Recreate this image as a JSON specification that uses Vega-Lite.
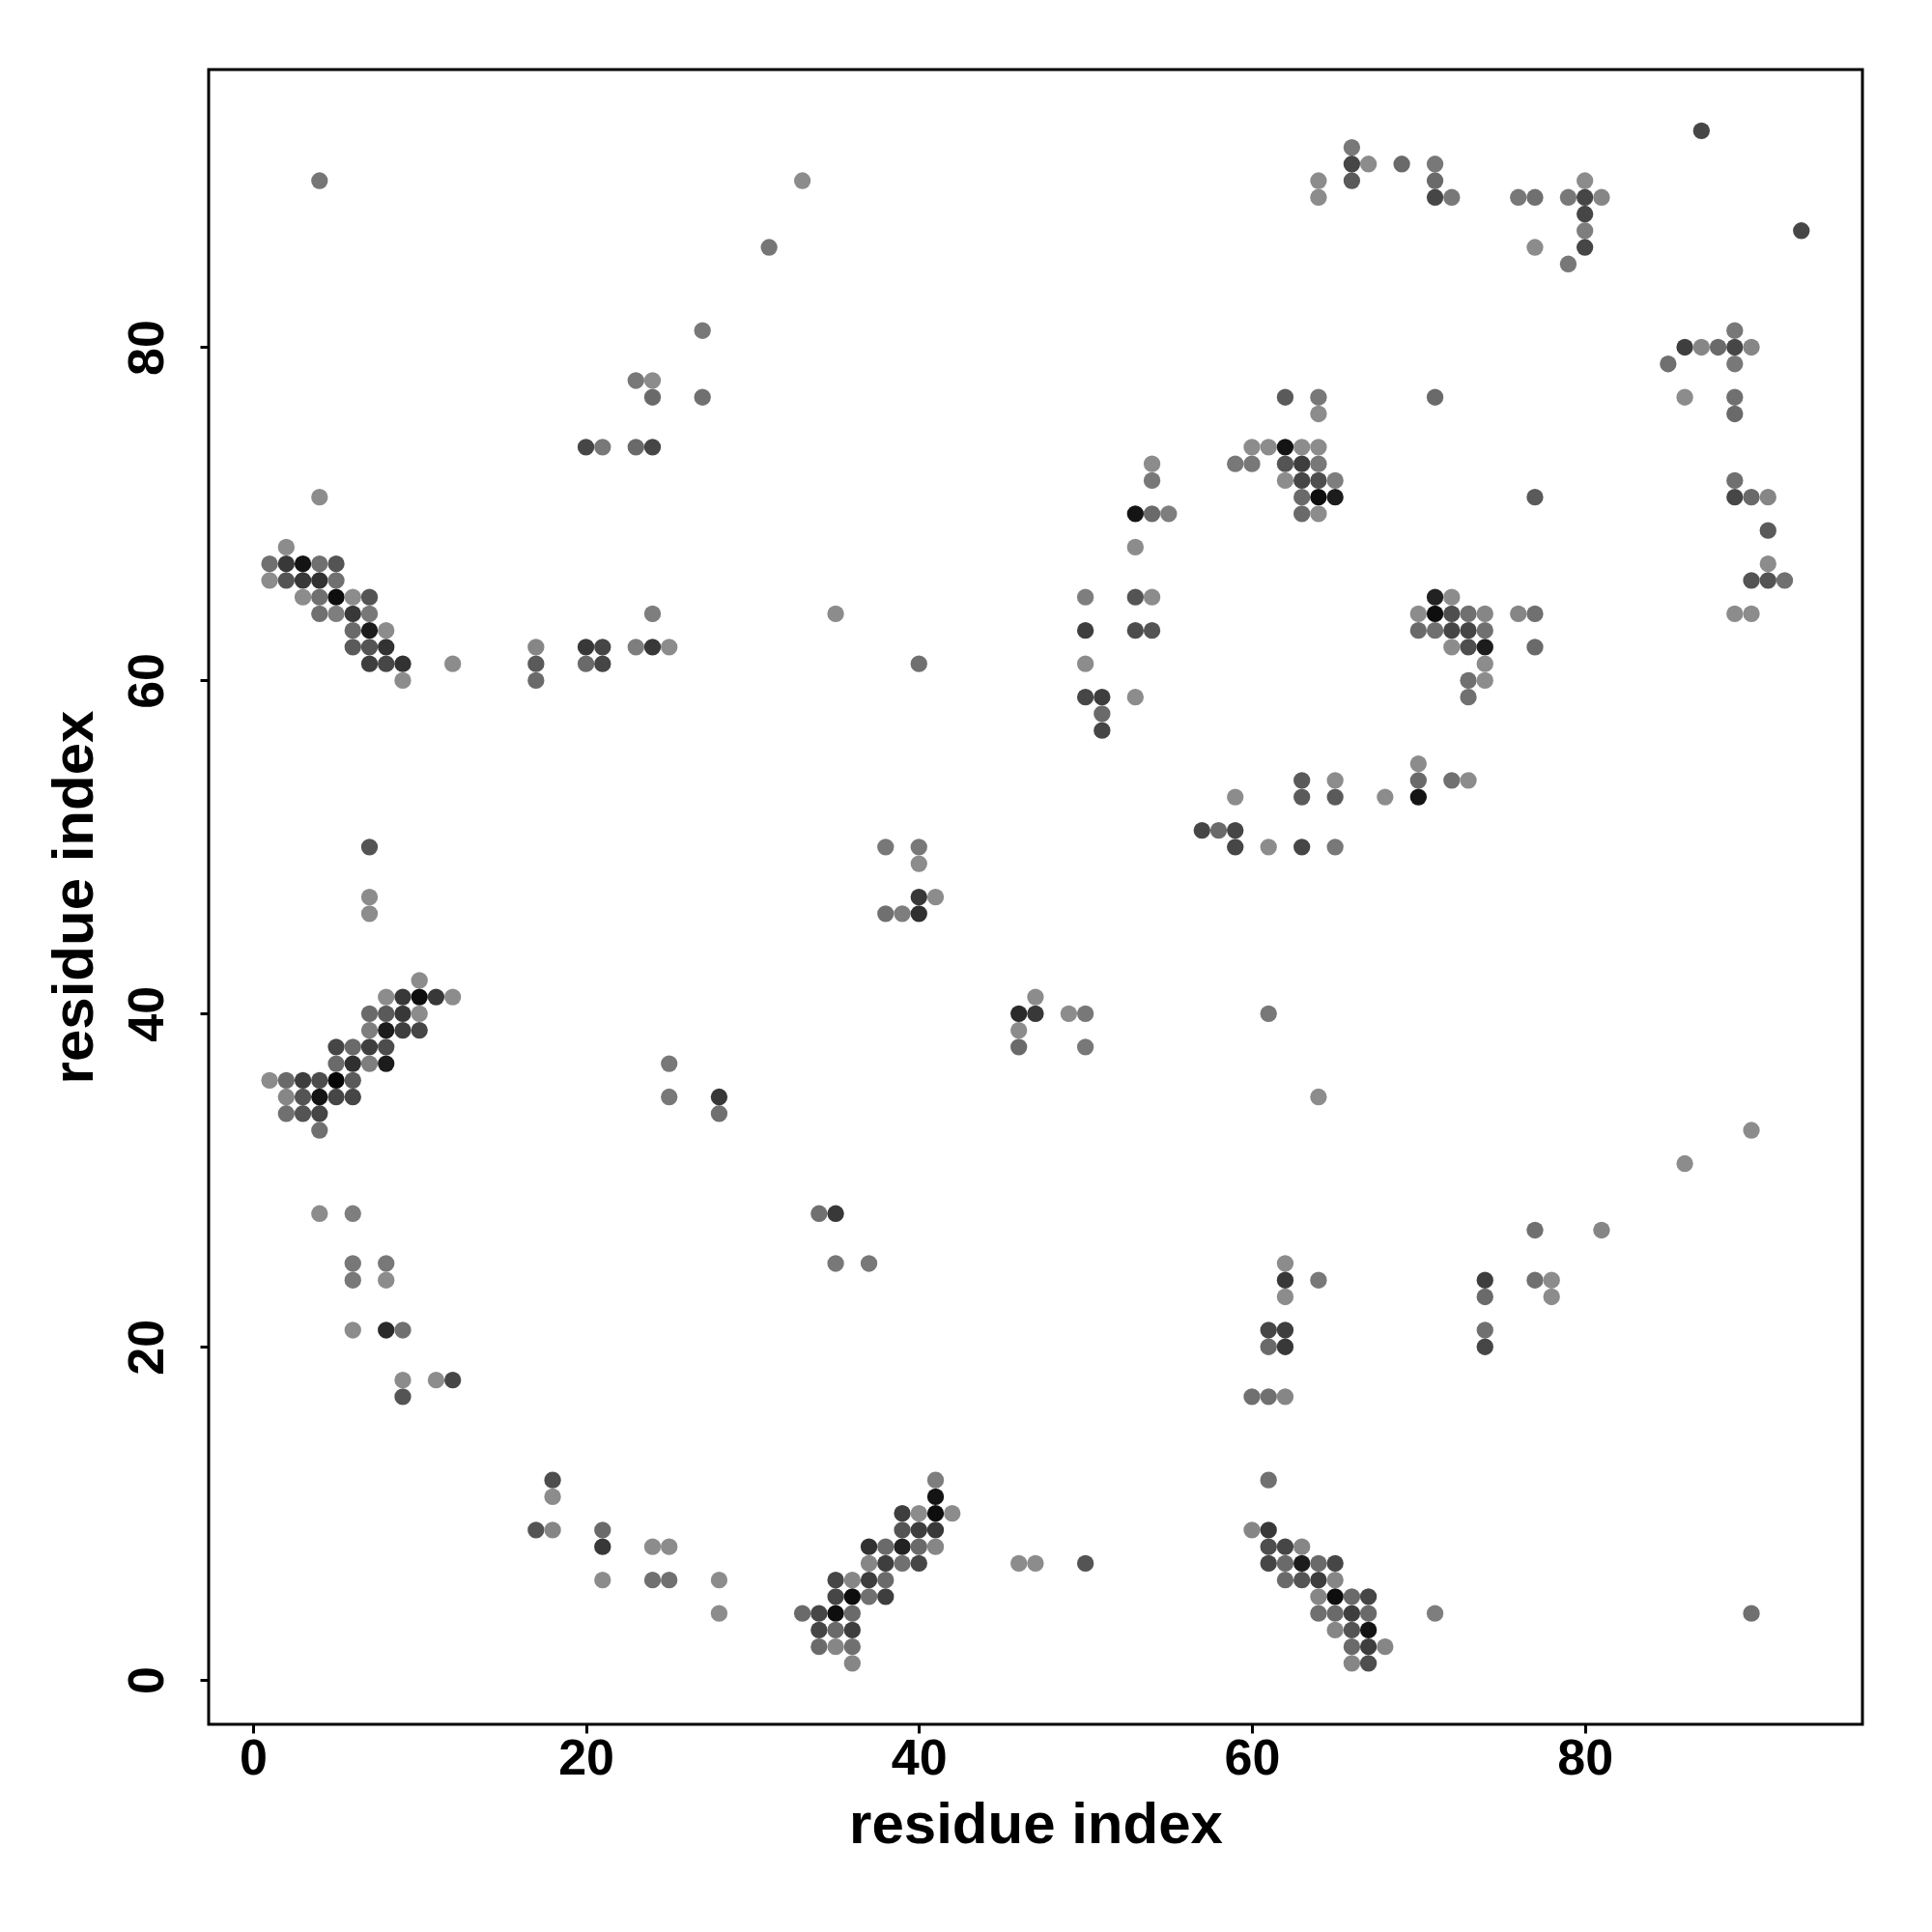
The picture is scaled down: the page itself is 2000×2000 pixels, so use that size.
{
  "$schema": "https://vega.github.io/schema/vega-lite/v6.json",
  "autosize": {"type": "none"},
  "width": 1712,
  "height": 1713,
  "padding": {"left": 216, "top": 72, "right": 72, "bottom": 215},
  "background": "white",
  "config": {
    "view": {"stroke": "black", "strokeWidth": 3},
    "font": "Liberation Sans"
  },
  "data": {
    "values": [
      {"i":2,"j":68,"p":0.5},
      {"i":1,"j":67,"p":0.6},{"i":2,"j":67,"p":0.8},{"i":3,"j":67,"p":0.93},{"i":4,"j":67,"p":0.6},{"i":5,"j":67,"p":0.7},
      {"i":1,"j":66,"p":0.5},{"i":2,"j":66,"p":0.7},{"i":3,"j":66,"p":0.8},{"i":4,"j":66,"p":0.82},{"i":5,"j":66,"p":0.6},
      {"i":3,"j":65,"p":0.5},{"i":4,"j":65,"p":0.6},{"i":5,"j":65,"p":0.95},{"i":6,"j":65,"p":0.5},{"i":7,"j":65,"p":0.7},
      {"i":4,"j":64,"p":0.6},{"i":5,"j":64,"p":0.55},{"i":6,"j":64,"p":0.8},{"i":7,"j":64,"p":0.57},
      {"i":6,"j":63,"p":0.62},{"i":7,"j":63,"p":0.9},{"i":8,"j":63,"p":0.5},
      {"i":6,"j":62,"p":0.68},{"i":7,"j":62,"p":0.7},{"i":8,"j":62,"p":0.82},
      {"i":7,"j":61,"p":0.78},{"i":8,"j":61,"p":0.75},{"i":9,"j":61,"p":0.82},{"i":12,"j":61,"p":0.5},
      {"i":9,"j":60,"p":0.5},
      {"i":4,"j":71,"p":0.5},
      {"i":4,"j":90,"p":0.58},
      {"i":17,"j":62,"p":0.52},{"i":17,"j":61,"p":0.68},{"i":17,"j":60,"p":0.62},
      {"i":20,"j":62,"p":0.8},{"i":21,"j":62,"p":0.75},{"i":23,"j":62,"p":0.55},{"i":24,"j":62,"p":0.8},{"i":25,"j":62,"p":0.5},
      {"i":20,"j":61,"p":0.62},{"i":21,"j":61,"p":0.75},
      {"i":24,"j":64,"p":0.55},{"i":35,"j":64,"p":0.5},{"i":40,"j":61,"p":0.6},
      {"i":20,"j":74,"p":0.75},{"i":21,"j":74,"p":0.57},{"i":23,"j":74,"p":0.62},{"i":24,"j":74,"p":0.75},
      {"i":24,"j":77,"p":0.62},{"i":27,"j":77,"p":0.6},
      {"i":23,"j":78,"p":0.57},{"i":24,"j":78,"p":0.5},
      {"i":27,"j":81,"p":0.57},
      {"i":31,"j":86,"p":0.58},
      {"i":33,"j":90,"p":0.5},
      {"i":7,"j":50,"p":0.7},{"i":7,"j":47,"p":0.5},{"i":7,"j":46,"p":0.5},
      {"i":10,"j":42,"p":0.5},
      {"i":8,"j":41,"p":0.5},{"i":9,"j":41,"p":0.8},{"i":10,"j":41,"p":0.95},{"i":11,"j":41,"p":0.8},{"i":12,"j":41,"p":0.5},
      {"i":7,"j":40,"p":0.62},{"i":8,"j":40,"p":0.68},{"i":9,"j":40,"p":0.8},{"i":10,"j":40,"p":0.5},
      {"i":7,"j":39,"p":0.55},{"i":8,"j":39,"p":0.9},{"i":9,"j":39,"p":0.78},{"i":10,"j":39,"p":0.75},
      {"i":5,"j":38,"p":0.75},{"i":6,"j":38,"p":0.62},{"i":7,"j":38,"p":0.78},{"i":8,"j":38,"p":0.73},
      {"i":5,"j":37,"p":0.62},{"i":6,"j":37,"p":0.83},{"i":7,"j":37,"p":0.55},{"i":8,"j":37,"p":0.9},
      {"i":1,"j":36,"p":0.5},{"i":2,"j":36,"p":0.62},{"i":3,"j":36,"p":0.78},{"i":4,"j":36,"p":0.73},{"i":5,"j":36,"p":0.97},{"i":6,"j":36,"p":0.68},
      {"i":2,"j":35,"p":0.52},{"i":3,"j":35,"p":0.7},{"i":4,"j":35,"p":0.93},{"i":5,"j":35,"p":0.75},{"i":6,"j":35,"p":0.75},
      {"i":2,"j":34,"p":0.6},{"i":3,"j":34,"p":0.7},{"i":4,"j":34,"p":0.75},
      {"i":4,"j":33,"p":0.6},
      {"i":4,"j":28,"p":0.5},{"i":6,"j":28,"p":0.55},
      {"i":6,"j":25,"p":0.57},{"i":8,"j":25,"p":0.57},
      {"i":6,"j":24,"p":0.57},{"i":8,"j":24,"p":0.5},
      {"i":6,"j":21,"p":0.5},{"i":8,"j":21,"p":0.85},{"i":9,"j":21,"p":0.6},
      {"i":9,"j":18,"p":0.5},{"i":9,"j":17,"p":0.7},{"i":11,"j":18,"p":0.5},{"i":12,"j":18,"p":0.75},
      {"i":25,"j":37,"p":0.57},{"i":25,"j":35,"p":0.57},{"i":28,"j":35,"p":0.8},{"i":28,"j":34,"p":0.6},
      {"i":34,"j":28,"p":0.6},{"i":35,"j":28,"p":0.8},{"i":35,"j":25,"p":0.57},{"i":37,"j":25,"p":0.57},
      {"i":38,"j":50,"p":0.57},{"i":40,"j":50,"p":0.57},{"i":40,"j":49,"p":0.5},{"i":40,"j":47,"p":0.8},{"i":41,"j":47,"p":0.5},
      {"i":38,"j":46,"p":0.6},{"i":39,"j":46,"p":0.55},{"i":40,"j":46,"p":0.83},
      {"i":46,"j":40,"p":0.85},{"i":47,"j":40,"p":0.8},{"i":47,"j":41,"p":0.5},{"i":49,"j":40,"p":0.5},{"i":50,"j":40,"p":0.57},
      {"i":46,"j":39,"p":0.5},{"i":46,"j":38,"p":0.62},{"i":50,"j":38,"p":0.57},
      {"i":17,"j":9,"p":0.7},{"i":18,"j":9,"p":0.52},{"i":18,"j":12,"p":0.72},{"i":18,"j":11,"p":0.5},
      {"i":21,"j":9,"p":0.62},{"i":21,"j":8,"p":0.8},{"i":21,"j":6,"p":0.5},
      {"i":24,"j":8,"p":0.5},{"i":25,"j":8,"p":0.5},{"i":24,"j":6,"p":0.6},{"i":25,"j":6,"p":0.6},
      {"i":28,"j":6,"p":0.5},{"i":28,"j":4,"p":0.5},
      {"i":46,"j":7,"p":0.5},{"i":47,"j":7,"p":0.5},{"i":50,"j":7,"p":0.7},
      {"i":41,"j":12,"p":0.55},
      {"i":41,"j":11,"p":0.93},
      {"i":39,"j":10,"p":0.78},{"i":40,"j":10,"p":0.5},{"i":41,"j":10,"p":0.95},{"i":42,"j":10,"p":0.5},
      {"i":39,"j":9,"p":0.7},{"i":40,"j":9,"p":0.78},{"i":41,"j":9,"p":0.8},
      {"i":37,"j":8,"p":0.82},{"i":38,"j":8,"p":0.62},{"i":39,"j":8,"p":0.88},{"i":40,"j":8,"p":0.62},{"i":41,"j":8,"p":0.52},
      {"i":37,"j":7,"p":0.52},{"i":38,"j":7,"p":0.78},{"i":39,"j":7,"p":0.6},{"i":40,"j":7,"p":0.75},
      {"i":35,"j":6,"p":0.75},{"i":36,"j":6,"p":0.52},{"i":37,"j":6,"p":0.78},{"i":38,"j":6,"p":0.62},
      {"i":35,"j":5,"p":0.75},{"i":36,"j":5,"p":0.95},{"i":37,"j":5,"p":0.6},{"i":38,"j":5,"p":0.78},
      {"i":33,"j":4,"p":0.62},{"i":34,"j":4,"p":0.75},{"i":35,"j":4,"p":0.95},{"i":36,"j":4,"p":0.62},
      {"i":34,"j":3,"p":0.75},{"i":35,"j":3,"p":0.62},{"i":36,"j":3,"p":0.78},
      {"i":34,"j":2,"p":0.62},{"i":35,"j":2,"p":0.52},{"i":36,"j":2,"p":0.6},
      {"i":36,"j":1,"p":0.52},
      {"i":50,"j":65,"p":0.55},{"i":50,"j":63,"p":0.78},{"i":50,"j":61,"p":0.5},{"i":50,"j":59,"p":0.75},{"i":51,"j":59,"p":0.78},{"i":53,"j":59,"p":0.5},
      {"i":51,"j":58,"p":0.62},{"i":51,"j":57,"p":0.75},
      {"i":53,"j":65,"p":0.7},{"i":54,"j":65,"p":0.5},{"i":53,"j":63,"p":0.73},{"i":54,"j":63,"p":0.7},
      {"i":53,"j":68,"p":0.5},{"i":53,"j":70,"p":0.93},{"i":54,"j":70,"p":0.62},{"i":55,"j":70,"p":0.55},{"i":54,"j":72,"p":0.57},{"i":54,"j":73,"p":0.5},
      {"i":62,"j":77,"p":0.68},{"i":64,"j":77,"p":0.57},{"i":64,"j":76,"p":0.5},
      {"i":60,"j":74,"p":0.5},{"i":61,"j":74,"p":0.5},{"i":62,"j":74,"p":0.93},{"i":63,"j":74,"p":0.5},{"i":64,"j":74,"p":0.5},
      {"i":59,"j":73,"p":0.57},{"i":60,"j":73,"p":0.57},{"i":62,"j":73,"p":0.7},{"i":63,"j":73,"p":0.78},{"i":64,"j":73,"p":0.57},
      {"i":62,"j":72,"p":0.5},{"i":63,"j":72,"p":0.75},{"i":64,"j":72,"p":0.72},{"i":65,"j":72,"p":0.55},
      {"i":63,"j":71,"p":0.62},{"i":64,"j":71,"p":0.95},{"i":65,"j":71,"p":0.9},
      {"i":63,"j":70,"p":0.62},{"i":64,"j":70,"p":0.5},
      {"i":71,"j":77,"p":0.62},
      {"i":77,"j":71,"p":0.68},
      {"i":64,"j":90,"p":0.5},{"i":64,"j":89,"p":0.5},{"i":66,"j":92,"p":0.57},{"i":66,"j":91,"p":0.75},{"i":67,"j":91,"p":0.5},{"i":66,"j":90,"p":0.68},
      {"i":69,"j":91,"p":0.62},{"i":71,"j":91,"p":0.57},{"i":71,"j":90,"p":0.62},{"i":71,"j":89,"p":0.75},{"i":72,"j":89,"p":0.57},
      {"i":76,"j":89,"p":0.57},{"i":77,"j":89,"p":0.6},{"i":77,"j":86,"p":0.5},
      {"i":79,"j":89,"p":0.57},{"i":80,"j":90,"p":0.5},{"i":80,"j":89,"p":0.75},{"i":81,"j":89,"p":0.52},{"i":80,"j":88,"p":0.75},{"i":80,"j":87,"p":0.55},{"i":80,"j":86,"p":0.75},{"i":79,"j":85,"p":0.57},
      {"i":87,"j":93,"p":0.75},{"i":93,"j":87,"p":0.75},
      {"i":85,"j":79,"p":0.6},{"i":86,"j":80,"p":0.78},{"i":87,"j":80,"p":0.52},{"i":88,"j":80,"p":0.62},{"i":89,"j":80,"p":0.75},{"i":90,"j":80,"p":0.52},
      {"i":89,"j":81,"p":0.57},{"i":89,"j":79,"p":0.57},
      {"i":86,"j":77,"p":0.5},{"i":89,"j":77,"p":0.6},{"i":89,"j":76,"p":0.62},
      {"i":89,"j":72,"p":0.6},{"i":89,"j":71,"p":0.75},{"i":90,"j":71,"p":0.62},{"i":91,"j":71,"p":0.52},{"i":91,"j":69,"p":0.68},
      {"i":91,"j":67,"p":0.5},{"i":90,"j":66,"p":0.7},{"i":91,"j":66,"p":0.7},{"i":92,"j":66,"p":0.6},
      {"i":89,"j":64,"p":0.5},{"i":90,"j":64,"p":0.5},
      {"i":71,"j":65,"p":0.88},{"i":72,"j":65,"p":0.5},
      {"i":70,"j":64,"p":0.5},{"i":71,"j":64,"p":0.95},{"i":72,"j":64,"p":0.72},{"i":73,"j":64,"p":0.6},{"i":74,"j":64,"p":0.52},
      {"i":70,"j":63,"p":0.62},{"i":71,"j":63,"p":0.6},{"i":72,"j":63,"p":0.75},{"i":73,"j":63,"p":0.75},{"i":74,"j":63,"p":0.6},
      {"i":72,"j":62,"p":0.5},{"i":73,"j":62,"p":0.72},{"i":74,"j":62,"p":0.9},
      {"i":74,"j":61,"p":0.5},
      {"i":73,"j":60,"p":0.6},{"i":74,"j":60,"p":0.5},
      {"i":73,"j":59,"p":0.6},
      {"i":76,"j":64,"p":0.52},{"i":77,"j":64,"p":0.6},{"i":77,"j":62,"p":0.62},
      {"i":57,"j":51,"p":0.75},{"i":58,"j":51,"p":0.62},{"i":59,"j":51,"p":0.75},{"i":59,"j":50,"p":0.75},{"i":59,"j":53,"p":0.5},{"i":61,"j":50,"p":0.5},
      {"i":63,"j":54,"p":0.68},{"i":63,"j":53,"p":0.68},{"i":63,"j":50,"p":0.75},{"i":65,"j":54,"p":0.5},{"i":65,"j":53,"p":0.68},{"i":65,"j":50,"p":0.57},
      {"i":68,"j":53,"p":0.5},{"i":70,"j":55,"p":0.5},{"i":70,"j":54,"p":0.62},{"i":70,"j":53,"p":0.93},{"i":72,"j":54,"p":0.6},{"i":73,"j":54,"p":0.5},
      {"i":61,"j":40,"p":0.57},{"i":64,"j":35,"p":0.5},
      {"i":86,"j":31,"p":0.5},{"i":90,"j":33,"p":0.5},{"i":77,"j":27,"p":0.6},{"i":81,"j":27,"p":0.52},
      {"i":77,"j":24,"p":0.6},{"i":78,"j":24,"p":0.5},{"i":78,"j":23,"p":0.5},
      {"i":74,"j":24,"p":0.78},{"i":74,"j":23,"p":0.62},{"i":74,"j":21,"p":0.6},{"i":74,"j":20,"p":0.75},
      {"i":62,"j":25,"p":0.5},{"i":62,"j":24,"p":0.8},{"i":64,"j":24,"p":0.57},{"i":62,"j":23,"p":0.5},
      {"i":61,"j":21,"p":0.75},{"i":62,"j":21,"p":0.78},{"i":61,"j":20,"p":0.62},{"i":62,"j":20,"p":0.8},
      {"i":60,"j":17,"p":0.6},{"i":61,"j":17,"p":0.6},{"i":62,"j":17,"p":0.52},
      {"i":61,"j":12,"p":0.6},
      {"i":60,"j":9,"p":0.52},{"i":61,"j":9,"p":0.8},
      {"i":61,"j":8,"p":0.72},{"i":62,"j":8,"p":0.75},{"i":63,"j":8,"p":0.52},
      {"i":61,"j":7,"p":0.75},{"i":62,"j":7,"p":0.62},{"i":63,"j":7,"p":0.9},{"i":64,"j":7,"p":0.62},{"i":65,"j":7,"p":0.75},
      {"i":62,"j":6,"p":0.62},{"i":63,"j":6,"p":0.7},{"i":64,"j":6,"p":0.78},{"i":65,"j":6,"p":0.52},
      {"i":64,"j":5,"p":0.52},{"i":65,"j":5,"p":0.95},{"i":66,"j":5,"p":0.62},{"i":67,"j":5,"p":0.75},
      {"i":64,"j":4,"p":0.6},{"i":65,"j":4,"p":0.62},{"i":66,"j":4,"p":0.78},{"i":67,"j":4,"p":0.62},
      {"i":65,"j":3,"p":0.52},{"i":66,"j":3,"p":0.7},{"i":67,"j":3,"p":0.93},
      {"i":66,"j":2,"p":0.62},{"i":67,"j":2,"p":0.78},{"i":68,"j":2,"p":0.52},
      {"i":66,"j":1,"p":0.52},{"i":67,"j":1,"p":0.72},
      {"i":71,"j":4,"p":0.55},{"i":90,"j":4,"p":0.6}
    ]
  },
  "mark": {"type": "circle", "size": 300, "opacity": 1},
  "encoding": {
    "x": {
      "field": "i", "type": "quantitative",
      "scale": {"domain": [-2.66, 96.67], "nice": false, "zero": false},
      "axis": {
        "title": "residue index", "values": [0, 20, 40, 60, 80],
        "grid": false, "domain": false,
        "ticks": true, "tickColor": "black", "tickWidth": 3, "tickSize": 9,
        "labelFont": "Liberation Sans", "labelFontWeight": "bold", "labelFontSize": 52, "labelColor": "black",
        "labelPadding": 1, "labelFlush": false,
        "titleFont": "Liberation Sans", "titleFontWeight": "bold", "titleFontSize": 60, "titleColor": "black",
        "titlePadding": 14
      }
    },
    "y": {
      "field": "j", "type": "quantitative",
      "scale": {"domain": [-2.66, 96.67], "nice": false, "zero": false},
      "axis": {
        "title": "residue index", "values": [0, 20, 40, 60, 80],
        "grid": false, "domain": false,
        "ticks": true, "tickColor": "black", "tickWidth": 3, "tickSize": 9,
        "labelFont": "Liberation Sans", "labelFontWeight": "bold", "labelFontSize": 52, "labelColor": "black",
        "labelAngle": -90, "labelAlign": "center", "labelBaseline": "bottom", "labelPadding": 28, "labelFlush": false,
        "titleFont": "Liberation Sans", "titleFontWeight": "bold", "titleFontSize": 60, "titleColor": "black",
        "titlePadding": 18
      }
    },
    "color": {
      "field": "p", "type": "quantitative",
      "scale": {"domain": [0.5, 1], "range": ["#8c8c8c", "#000000"], "interpolate": "rgb"},
      "legend": null
    }
  }
}
